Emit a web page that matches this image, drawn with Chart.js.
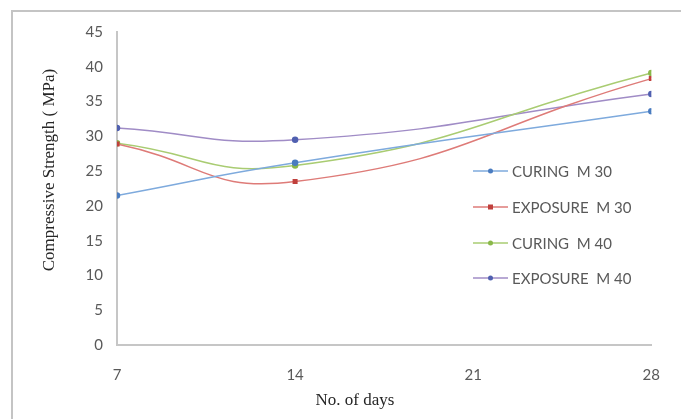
<!DOCTYPE html>
<html>
<head>
<meta charset="utf-8">
<script src="https://cdn.jsdelivr.net/npm/chart.js@4/dist/chart.umd.min.js"></script>
<style>
  html, body { margin: 0; padding: 0; background: #fff; }
  #wrap { width: 681px; height: 419px; position: relative; }
</style>
</head>
<body>
<div id="wrap"><canvas id="c" width="681" height="419"></canvas></div>
<script>
// ── Data ────────────────────────────────────────────────
const days        = [7, 14, 28];
const xTicks      = [7, 14, 21, 28];
const curingM30   = [21.5, 26.2, 33.6];
const exposureM30 = [28.9, 23.5, 38.3];
const curingM40   = [29.0, 25.8, 39.1];
const exposureM40 = [31.2, 29.5, 36.1];
const seriesNames = ['CURING  M 30', 'EXPOSURE  M 30', 'CURING  M 40', 'EXPOSURE  M 40'];
const xTitle = 'No. of days';
const yTitle = 'Compressive Strength ( MPa)';

const C = {
  axis:  '#c6c6c6',
  tick:  '#595959',
  title: '#262626',
  frame: '#c4c4c4',
};

const lineCols   = ['#7eaadd', '#de7b78', '#a9cc72', '#a08cc6'];
const markerCols = ['#4a7cc0', '#c0403c', '#8ab84a', '#5060b0'];

const toPts = vals => vals.map((v, i) => ({ x: days[i], y: v }));

const datasets = [curingM30, exposureM30, curingM40, exposureM40].map((vals, i) => ({
  label: seriesNames[i],
  data: toPts(vals),
  borderColor: lineCols[i],
  backgroundColor: markerCols[i],
  pointBackgroundColor: markerCols[i],
  pointBorderColor: markerCols[i],
  pointStyle: i === 1 ? 'rect' : 'circle',
  pointRadius: 2.5,
  borderWidth: 1.5,
  tension: 0.5,
  fill: false,
}));

// frame, axis titles and the legend inside the plot
const extras = {
  id: 'extras',
  beforeDraw(chart) {
    const ctx = chart.ctx;
    ctx.save();
    ctx.strokeStyle = C.frame;
    ctx.lineWidth = 2;
    ctx.beginPath();
    ctx.moveTo(12, 430);
    ctx.lineTo(12, 11);
    ctx.lineTo(690, 11);
    ctx.stroke();
    ctx.restore();
  },
  afterDraw(chart) {
    const ctx = chart.ctx;
    ctx.save();

    // axis titles
    ctx.fillStyle = C.title;
    ctx.font = '17px "Liberation Serif"';
    ctx.textAlign = 'center';
    ctx.textBaseline = 'middle';
    ctx.fillText(xTitle, 355, 401);
    ctx.save();
    ctx.translate(50, 170);
    ctx.rotate(-Math.PI / 2);
    ctx.fillText(yTitle, 0, 0);
    ctx.restore();

    // legend
    const x0 = 473, x1 = 508, tx = 512;
    const rows = [171, 207, 243, 278];
    ctx.font = '15px Lato';
    ctx.textAlign = 'left';
    chart.data.datasets.forEach((ds, i) => {
      const y = rows[i];
      ctx.strokeStyle = ds.borderColor;
      ctx.lineWidth = 1.5;
      ctx.beginPath();
      ctx.moveTo(x0, y);
      ctx.lineTo(x1, y);
      ctx.stroke();
      ctx.fillStyle = ds.pointBackgroundColor;
      if (i === 1) {
        ctx.fillRect((x0 + x1) / 2 - 2.5, y - 2.5, 5, 5);
      } else {
        ctx.beginPath();
        ctx.arc((x0 + x1) / 2, y, 2.5, 0, Math.PI * 2);
        ctx.fill();
      }
      ctx.fillStyle = C.tick;
      ctx.fillText(ds.label, tx, y + 1);
    });
    ctx.restore();
  }
};

new Chart(document.getElementById('c'), {
  type: 'line',
  data: { datasets },
  plugins: [extras],
  options: {
    responsive: false,
    animation: false,
    layout: { padding: { left: 0, right: 17, top: 32, bottom: 0 } },
    plugins: {
      legend: { display: false },
      tooltip: { enabled: false },
    },
    scales: {
      x: {
        type: 'linear',
        min: 7,
        max: 28,
        afterBuildTicks: s => { s.ticks = xTicks.map(v => ({ value: v })); },
        grid: { display: false, drawTicks: false },
        border: { color: C.axis, width: 2 },
        ticks: {
          color: C.tick,
          font: { family: 'Lato', size: 15 },
          padding: 21,
          maxRotation: 0,
        },
        afterFit: s => { s.height = 74; },
      },
      y: {
        min: 0,
        max: 45,
        ticks: {
          stepSize: 5,
          color: C.tick,
          font: { family: 'Lato', size: 15 },
          padding: 14,
        },
        grid: { display: false, drawTicks: false },
        border: { color: C.axis, width: 2 },
        afterFit: s => { s.width = 117; },
      },
    },
  },
});
</script>
</body>
</html>
